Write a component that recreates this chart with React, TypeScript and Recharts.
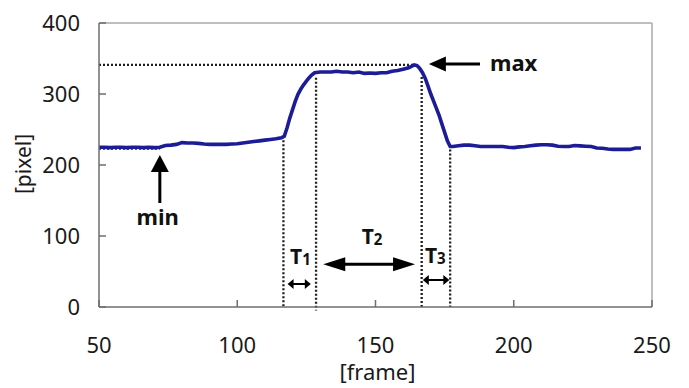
import React from 'react';
import { LineChart, Line, XAxis, YAxis, ReferenceLine } from 'recharts';

const frames = [
  50, 52, 54, 56, 58, 60, 62, 64, 66, 68, 70, 72, 74, 76, 78, 80, 82, 84, 86, 88, 90, 92, 94, 96, 98, 100,
  102, 104, 106, 108, 110, 112, 114, 116, 117, 118, 119, 120, 121, 122, 123, 124, 125, 126, 127, 128,
  130, 132, 134, 136, 138, 140, 142, 144, 146, 148, 150, 152, 154, 156, 158, 160, 162, 163, 164, 165,
  166, 167, 168, 169, 170, 171, 172, 173, 174, 175, 176, 177, 178, 180, 182, 184, 186, 188, 190, 192,
  194, 196, 198, 200, 202, 204, 206, 208, 210, 212, 214, 216, 218, 220, 222, 224, 226, 228, 230, 232,
  234, 236, 238, 240, 242, 244, 246,
];
const pixelValues = [
  225, 225, 224.5, 225, 225, 224.5, 225, 225, 224.5, 225, 224.5, 225, 227.5, 228, 229, 231.5, 231, 231, 230.5, 229.5, 229, 229, 229, 229, 229.5, 230,
  231, 232, 233, 234, 235, 236, 237, 238.5, 240.5, 252, 266, 278, 290, 300, 307, 313, 318, 323, 327, 330,
  331, 331, 331, 332, 331, 331, 330, 331, 329, 329.5, 329, 330, 330, 332, 333, 335, 337, 339, 341, 340,
  336, 330, 322, 311, 300, 290, 280, 270, 258, 246, 234, 226, 226, 227, 228, 228, 227, 226, 226, 226,
  226, 226, 225, 224.5, 225.5, 226, 227, 228, 228.5, 228.5, 228, 226.5, 226, 226, 227.5, 227, 226.5, 226, 224, 223.5,
  222.5, 222, 222, 222, 222, 224, 224,
];
const xTicks = [50, 100, 150, 200, 250];
const yTicks = [0, 100, 200, 300, 400];

const data = frames.map((f, i) => ({ frame: f, pixel: pixelValues[i] }));

const FONT = '"Noto Sans", "DejaVu Sans", sans-serif';
const AXIS = '#6e6e6e';
const BOX = '#a8a8a8';
const DOT = '#1e1e1e';

function arrowShape(head: number, half: number, sw: number, both: boolean) {
  return (p: any) => {
    const { x1, y1, x2, y2 } = p;
    const dx = x2 - x1;
    const dy = y2 - y1;
    const len = Math.hypot(dx, dy) || 1;
    const ux = dx / len;
    const uy = dy / len;
    const nx = -uy;
    const ny = ux;
    const tri = (tx: number, ty: number, dx0: number, dy0: number) =>
      `${tx},${ty} ${tx - dx0 * head + nx * half},${ty - dy0 * head + ny * half} ${tx - dx0 * head - nx * half},${ty - dy0 * head - ny * half}`;
    const sx = both ? x1 + ux * head * 0.8 : x1;
    const sy = both ? y1 + uy * head * 0.8 : y1;
    const ex = x2 - ux * head * 0.8;
    const ey = y2 - uy * head * 0.8;
    return (
      <g>
        <line x1={sx} y1={sy} x2={ex} y2={ey} stroke="#000" strokeWidth={sw} />
        <polygon points={tri(x2, y2, ux, uy)} fill="#000" />
        {both && <polygon points={tri(x1, y1, -ux, -uy)} fill="#000" />}
      </g>
    );
  };
}

function textShape(main: string, sub: string | null, size: number) {
  return (p: any) => (
    <text x={p.x1} y={p.y1} fontFamily={FONT} fontWeight="bold" fontSize={size} fill="#111">
      {main}
      {sub && (
        <tspan fontSize={size * 0.72} dy={1}>
          {sub}
        </tspan>
      )}
    </text>
  );
}

const dotted = { stroke: DOT, strokeWidth: 2.3, strokeDasharray: '2 2' };

export default function App() {
  return (
    <div style={{ position: 'absolute', left: 0, top: 0, background: '#fff' }}>
      <LineChart width={689} height={388} data={data} margin={{ top: 23, right: 37, left: 0, bottom: 0 }}>
        <XAxis
          dataKey="frame"
          type="number"
          domain={[50, 250]}
          ticks={xTicks}
          height={81}
          tickSize={-7}
          tickMargin={37}
          axisLine={{ stroke: AXIS, strokeWidth: 1.5 }}
          tickLine={{ stroke: AXIS, strokeWidth: 1.5 }}
          tick={{ fill: '#1a1a1a', fontSize: 22, fontFamily: FONT }}
          label={{
            content: (props: any) => {
              const vb = props.viewBox || { x: 99, y: 307, width: 553, height: 81 };
              return (
                <text x={vb.x + vb.width / 2 + 2} y={380} textAnchor="middle" fontFamily={FONT} fontSize={22} fill="#1a1a1a">
                  [frame]
                </text>
              );
            },
          }}
        />
        <YAxis
          type="number"
          domain={[0, 400]}
          ticks={yTicks}
          width={99}
          tickSize={-7}
          tickMargin={26}
          axisLine={{ stroke: AXIS, strokeWidth: 1.5 }}
          tickLine={{ stroke: AXIS, strokeWidth: 1.5 }}
          tick={{ fill: '#1a1a1a', fontSize: 22, fontFamily: FONT }}
          label={{
            content: () => (
              <text
                x={0}
                y={0}
                transform="translate(31,164) rotate(-90)"
                textAnchor="middle"
                fontFamily={FONT}
                fontSize={21}
                fill="#1a1a1a"
              >
                [pixel]
              </text>
            ),
          }}
        />
        <ReferenceLine y={400} stroke={BOX} strokeWidth={1.5} />
        <ReferenceLine x={250} stroke={BOX} strokeWidth={1.5} />

        <ReferenceLine segment={[{ x: 50, y: 341 }, { x: 163.7, y: 341 }]} {...dotted} />
        <ReferenceLine segment={[{ x: 50, y: 223 }, { x: 72, y: 223 }]} {...dotted} />
        <ReferenceLine segment={[{ x: 116.7, y: 235 }, { x: 116.7, y: 0 }]} {...dotted} />
        <ReferenceLine segment={[{ x: 128.5, y: 323 }, { x: 128.5, y: -5 }]} ifOverflow="visible" {...dotted} />
        <ReferenceLine segment={[{ x: 166.7, y: 324 }, { x: 166.7, y: 0 }]} {...dotted} />
        <ReferenceLine segment={[{ x: 177, y: 222 }, { x: 177, y: 0 }]} {...dotted} />

        <Line
          type="linear"
          dataKey="pixel"
          stroke="#1c1c96"
          strokeWidth={3.6}
          dot={false}
          isAnimationActive={false}
        />

        <ReferenceLine segment={[{ x: 187.8, y: 342.3 }, { x: 169.3, y: 342.3 }]} ifOverflow="visible" shape={arrowShape(17, 7.5, 3, false)} />
        <ReferenceLine segment={[{ x: 72, y: 146.5 }, { x: 72, y: 214 }]} ifOverflow="visible" shape={arrowShape(17, 9, 3, false)} />
        <ReferenceLine segment={[{ x: 131.1, y: 60.1 }, { x: 164.3, y: 60.1 }]} ifOverflow="visible" shape={arrowShape(22, 7, 3, true)} />
        <ReferenceLine segment={[{ x: 118.2, y: 32.4 }, { x: 126.6, y: 32.4 }]} ifOverflow="visible" shape={arrowShape(6, 5, 2, true)} />
        <ReferenceLine segment={[{ x: 167.1, y: 38 }, { x: 176.7, y: 38 }]} ifOverflow="visible" shape={arrowShape(6, 5, 2, true)} />

        <ReferenceLine segment={[{ x: 191.4, y: 332.4 }, { x: 191.4, y: 332.4 }]} ifOverflow="visible" shape={textShape('max', null, 22)} />
        <ReferenceLine segment={[{ x: 63.6, y: 115.5 }, { x: 63.6, y: 115.5 }]} ifOverflow="visible" shape={textShape('min', null, 22)} />
        <ReferenceLine segment={[{ x: 145, y: 88.7 }, { x: 145, y: 88.7 }]} ifOverflow="visible" shape={textShape('T', '2', 21)} />
        <ReferenceLine segment={[{ x: 119.1, y: 60.6 }, { x: 119.1, y: 60.6 }]} ifOverflow="visible" shape={textShape('T', '1', 21)} />
        <ReferenceLine segment={[{ x: 167.9, y: 62.4 }, { x: 167.9, y: 62.4 }]} ifOverflow="visible" shape={textShape('T', '3', 21)} />
      </LineChart>
    </div>
  );
}
